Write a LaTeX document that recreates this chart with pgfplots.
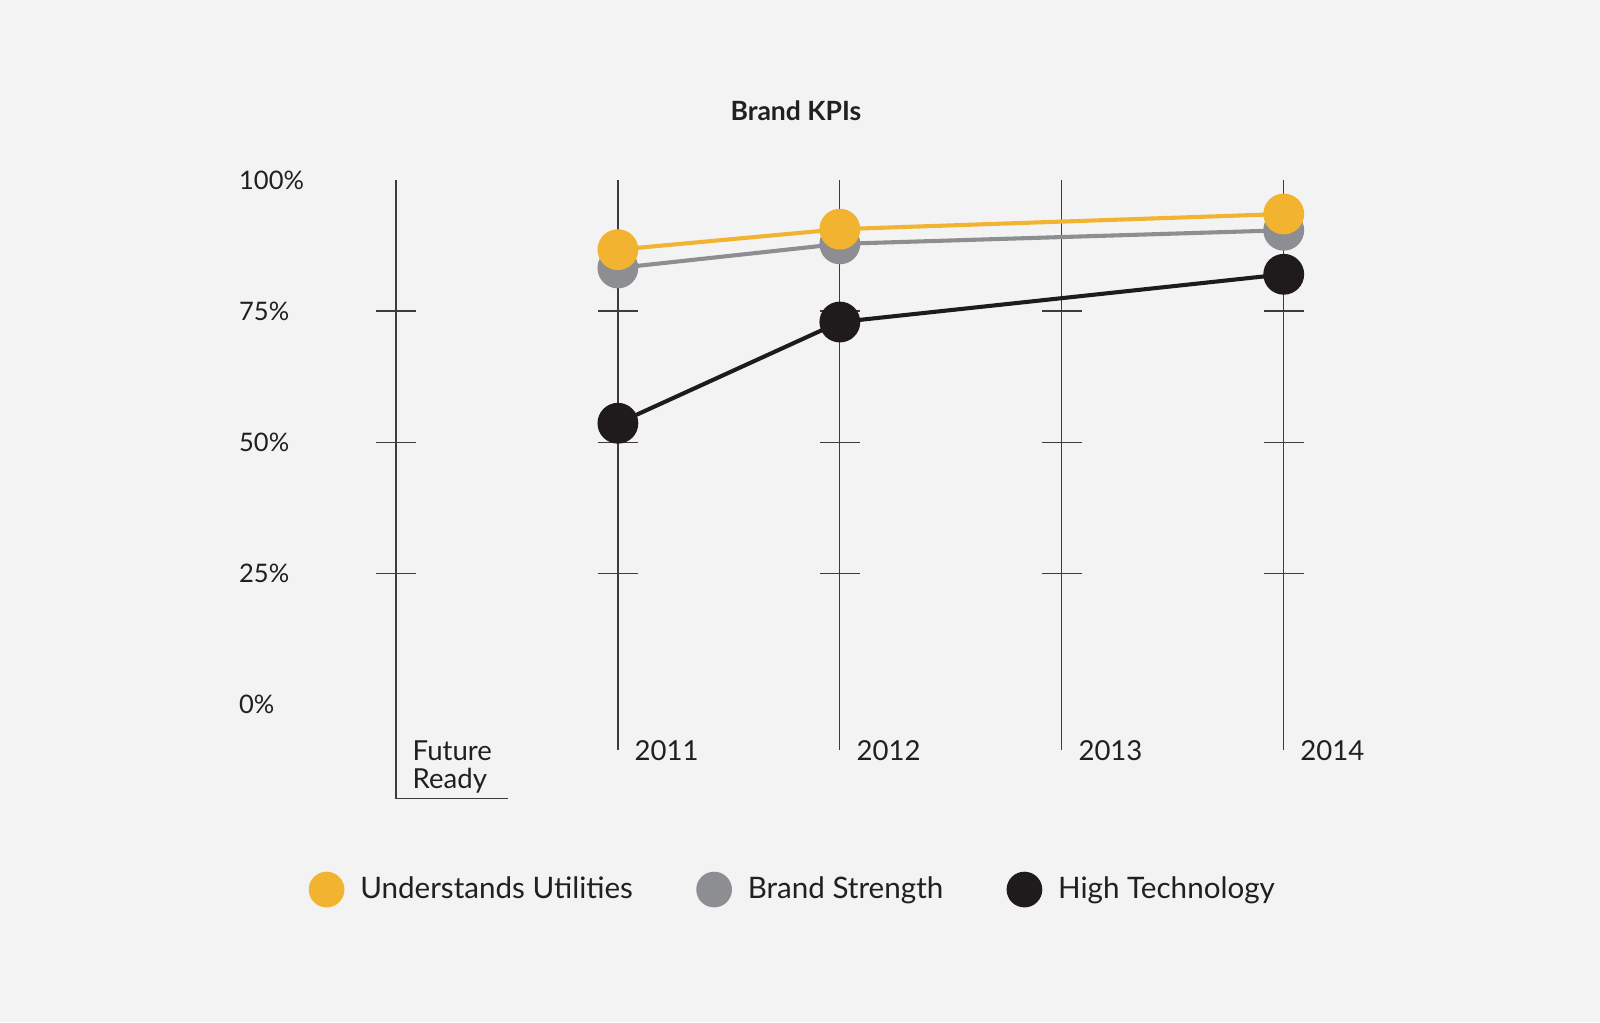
\documentclass[border=0pt]{standalone}
\usepackage{pgfplots}
\pgfplotsset{compat=1.18}
\usepackage{fontspec}
\setmainfont{Lato}
\definecolor{bg}{HTML}{F3F3F3}
\definecolor{cyellow}{HTML}{F2B430}
\definecolor{cgray}{HTML}{8D8E91}
\definecolor{cdark}{HTML}{1F1B1C}
\definecolor{cgrid}{HTML}{3C3C3C}
\definecolor{ctext}{HTML}{231F20}
\begin{document}
\begin{tikzpicture}
\begin{axis}[
  x=108.75pt, y=2.57pt,
  xmin=-1.784, xmax=5.425, ymin=-60.6, ymax=134.3,
  clip=false,
  axis background/.style={fill=bg},
  axis line style={draw=none},
  major tick length=0pt,
  tick style={draw=none},
  xtick={0,1,2,3,4},
  xticklabels={{Future\\Ready},2011,2012,2013,2014},
  xticklabel style={anchor=north west, align=left, inner sep=0pt, xshift=8pt, yshift=138pt,
    font=\fontsize{13.5}{13.5}\selectfont, text=ctext},
  ytick={0,25,50,75,100},
  yticklabels={0\%,25\%,50\%,75\%,100\%},
  yticklabel style={anchor=west, inner sep=0pt, xshift=117pt,
    font=\fontsize{12.5}{13}\selectfont, text=ctext},
  legend style={draw=none, fill=none, inner sep=0pt, outer sep=0pt,
    at={(axis cs:-0.393,-35.3)}, anchor=west,
    legend columns=-1,
    nodes={inner sep=0pt},
    font=\fontsize{14.5}{15}\selectfont, text=ctext,
    /tikz/every odd column/.append style={column sep=7.75pt},
    /tikz/every even column/.append style={column sep=31pt}},
  legend cell align=left,
  legend image code/.code={\fill[#1, draw=none] (8.75pt,0pt) circle (8.75pt);},
]
% vertical guide lines and their ticks
\draw[cgrid, line width=0.6pt] (axis cs:0,100) -- (axis cs:0,-18.0) -- (axis cs:0.506,-18.0);
\pgfplotsinvokeforeach{1,2,3,4}{
  \draw[cgrid, line width=0.6pt] (axis cs:#1,100) -- (axis cs:#1,-8.6);
}
\pgfplotsinvokeforeach{0,1,2,3,4}{
  \draw[cgrid, line width=0.6pt] ([xshift=-9.75pt]axis cs:#1,75) -- ([xshift=9.75pt]axis cs:#1,75);
  \draw[cgrid, line width=0.6pt] ([xshift=-9.75pt]axis cs:#1,50) -- ([xshift=9.75pt]axis cs:#1,50);
  \draw[cgrid, line width=0.6pt] ([xshift=-9.75pt]axis cs:#1,25) -- ([xshift=9.75pt]axis cs:#1,25);
}
% data
\addplot[cgray, line width=2pt, mark=*, mark size=9pt, mark options={fill=cgray, draw=none}, forget plot]
  coordinates {(1,83.2) (2,87.8) (4,90.4)};
\addplot[cyellow, line width=2pt, mark=*, mark size=9pt, mark options={fill=cyellow, draw=none}, forget plot]
  coordinates {(1,86.7) (2,90.6) (4,93.5)};
\addplot[cdark, line width=2pt, mark=*, mark size=9pt, mark options={fill=cdark, draw=none}, forget plot]
  coordinates {(1,53.6) (2,72.9) (4,82.0)};
% legend
\addlegendimage{fill=cyellow}
\addlegendentry{Understands Utilities}
\addlegendimage{fill=cgray}
\addlegendentry{Brand Strength}
\addlegendimage{fill=cdark}
\addlegendentry{High Technology}
% title
\node[font=\fontsize{13}{13}\selectfont\bfseries, text=ctext] at (axis cs:1.802,113.1) {Brand KPIs};
\end{axis}
\end{tikzpicture}
\end{document}
